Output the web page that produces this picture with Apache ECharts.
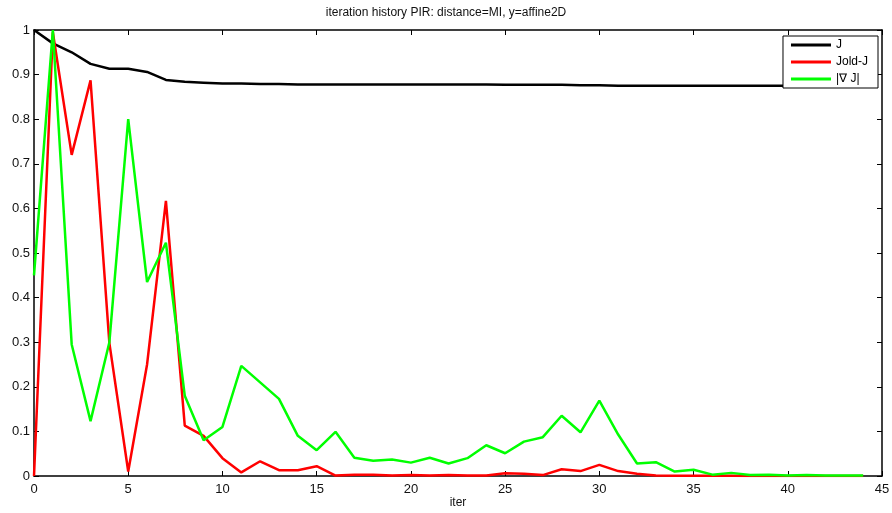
<!DOCTYPE html>
<html><head><meta charset="utf-8">
<script src="https://cdn.jsdelivr.net/npm/echarts@6/dist/echarts.min.js"></script>
<style>html,body{margin:0;padding:0;background:#fff}#c{width:892px;height:513px}</style>
</head><body><div id="c"></div>
<script>
const iters = Array.from({length:45},(_, i)=>i);
const J = [1.0,0.970,0.950,0.924,0.913,0.913,0.906,0.888,0.884,0.882,0.880,0.880,0.879,0.879,0.878,0.878,0.878,0.878,0.878,0.878,0.878,0.878,0.878,0.878,0.878,0.877,0.877,0.877,0.877,0.876,0.876,0.875,0.875,0.875,0.875,0.875,0.875,0.875,0.875,0.875,0.875,0.875,0.875,0.875,0.875];
const Jold = [0,0.995,0.72,0.887,0.298,0.01,0.25,0.617,0.113,0.09,0.04,0.008,0.033,0.013,0.013,0.022,0.001,0.003,0.003,0.001,0.002,0.001,0.002,0.001,0.001,0.006,0.005,0.002,0.015,0.011,0.025,0.011,0.005,0.001,0.0005,0.0005,0.0003,0.0003,0.0002,0.0002,0.0001,0.0001,0.0001,0.0001,0.0001];
const gradJ = [0.45,1.0,0.295,0.123,0.3,0.8,0.435,0.523,0.18,0.08,0.11,0.247,0.21,0.173,0.09,0.058,0.099,0.041,0.034,0.037,0.030,0.041,0.028,0.040,0.069,0.051,0.077,0.087,0.135,0.098,0.169,0.093,0.028,0.031,0.010,0.014,0.003,0.007,0.002,0.003,0.001,0.002,0.001,0.001,0.001];
const names = ['J','Jold-J','|\u2207 J|'];
const font = 'Liberation Sans, Arial, sans-serif';
const chart = echarts.init(document.getElementById('c'));
const mk = (d)=>iters.map((x,i)=>[x,d[i]]);
const axLine = {show:true,onZero:false,lineStyle:{color:'#000',width:1.5}};
const tick = {show:true,inside:true,length:5,lineStyle:{color:'#000'}};
chart.setOption({
  animation:false,
  backgroundColor:'#fff',
  title:{text:'iteration history PIR: distance=MI, y=affine2D',left:'center',top:2,
    textStyle:{fontFamily:font,fontSize:12,fontWeight:'normal',color:'#111'}},
  grid:{left:34,right:10,top:30,bottom:37,show:false,containLabel:false,outerBoundsMode:'none'},
  legend:{orient:'vertical',right:14,top:36,data:names,
    backgroundColor:'#fff',borderColor:'#000',borderWidth:1,padding:[3,10,3,8],
    itemWidth:40,itemHeight:3,itemGap:5,icon:'rect',
    textStyle:{fontFamily:font,fontSize:12,color:'#000'}},
  xAxis:[{type:'value',min:0,max:45,interval:5,name:'iter',nameLocation:'middle',nameGap:21,nameMoveOverlap:false,
    nameTextStyle:{fontFamily:font,fontSize:12,color:'#111'},
    axisLine:axLine,axisTick:tick,
    axisLabel:{fontFamily:font,fontSize:13,color:'#111',margin:7},splitLine:{show:false}},
   {type:'value',position:'top',min:0,max:45,interval:5,axisLine:axLine,
    axisTick:tick,axisLabel:{show:false},splitLine:{show:false}}],
  yAxis:[{type:'value',min:0,max:1,interval:0.1,
    axisLine:axLine,axisTick:tick,
    axisLabel:{fontFamily:font,fontSize:13,color:'#111',margin:4,formatter:v=>String(+v.toFixed(1))},splitLine:{show:false}},
   {type:'value',position:'right',min:0,max:1,interval:0.1,axisLine:axLine,
    axisTick:tick,axisLabel:{show:false},splitLine:{show:false}}],
  series:[
    {name:names[0],type:'line',data:mk(J),showSymbol:false,lineStyle:{color:'#000',width:2.5},itemStyle:{color:'#000'}},
    {name:names[1],type:'line',data:mk(Jold),showSymbol:false,lineStyle:{color:'#ff0000',width:2.5},itemStyle:{color:'#ff0000'}},
    {name:names[2],type:'line',data:mk(gradJ),showSymbol:false,lineStyle:{color:'#00ff00',width:2.5},itemStyle:{color:'#00ff00'}}
  ]
});
</script></body></html>
